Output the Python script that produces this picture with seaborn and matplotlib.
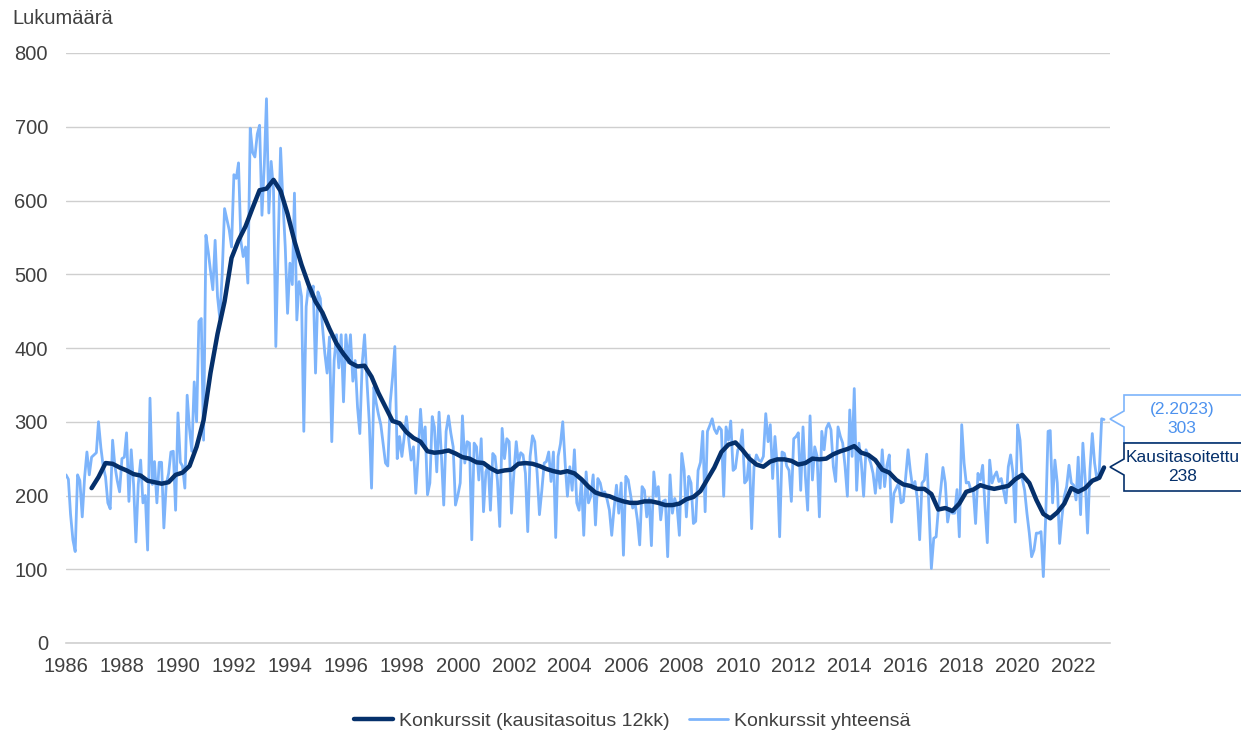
import pandas as pd
import matplotlib
matplotlib.use('Agg')
import matplotlib.pyplot as plt
import matplotlib.dates as mdates
from matplotlib.patches import Polygon
import seaborn as sns

# Konkurssit yhteensä, kuukausittain 1/1986 - 2/2023 (luettu kuvasta)
total = [
    228, 222, 175, 140, 124, 228, 220, 171, 225, 259, 228, 252,  # 1986
    255, 258, 300, 265, 240, 225, 190, 182, 275, 240, 220, 205,  # 1987
    250, 252, 285, 192, 262, 215, 137, 215, 248, 190, 200, 126,  # 1988
    332, 215, 246, 190, 245, 245, 156, 215, 230, 259, 260, 180,  # 1989
    312, 245, 240, 210, 336, 290, 260, 354, 300, 436, 440, 275,  # 1990
    553, 530, 505, 479, 546, 470, 440, 500, 589, 575, 560, 537,  # 1991
    635, 630, 651, 545, 524, 537, 488, 698, 665, 659, 690, 702,  # 1992
    580, 650, 738, 583, 653, 614, 402, 540, 671, 600, 537, 447,  # 1993
    515, 486, 610, 438, 490, 470, 287, 456, 486, 470, 484, 366,  # 1994
    476, 467, 430, 393, 366, 415, 273, 383, 418, 373, 418, 327,  # 1995
    418, 380, 418, 355, 383, 320, 284, 379, 418, 357, 300, 210,  # 1996
    347, 325, 310, 296, 270, 244, 240, 325, 360, 402, 250, 280,  # 1997
    253, 280, 307, 275, 248, 266, 203, 253, 317, 271, 293, 201,  # 1998
    217, 307, 293, 232, 313, 253, 187, 287, 308, 285, 266, 187,  # 1999
    200, 217, 308, 244, 273, 271, 140, 271, 266, 221, 277, 178,  # 2000
    232, 241, 180, 257, 253, 220, 158, 291, 250, 277, 273, 176,  # 2001
    230, 273, 244, 258, 255, 230, 151, 253, 281, 273, 230, 174,  # 2002
    207, 244, 246, 259, 219, 259, 143, 253, 270, 300, 244, 199,  # 2003
    239, 207, 262, 190, 180, 221, 146, 232, 190, 199, 228, 160,  # 2004
    223, 217, 203, 205, 195, 180, 146, 183, 214, 176, 217, 119,  # 2005
    226, 221, 203, 183, 190, 167, 133, 212, 207, 171, 196, 132,  # 2006
    232, 199, 212, 167, 192, 194, 117, 228, 176, 196, 185, 146,  # 2007
    257, 234, 171, 226, 217, 162, 165, 234, 245, 287, 178, 287,  # 2008
    295, 304, 290, 284, 293, 289, 199, 293, 275, 301, 234, 237,  # 2009
    262, 266, 289, 217, 221, 255, 155, 239, 255, 248, 246, 253,  # 2010
    311, 273, 296, 223, 280, 239, 144, 259, 257, 240, 234, 192,  # 2011
    277, 280, 285, 207, 293, 226, 180, 308, 221, 266, 253, 171,  # 2012
    287, 262, 291, 298, 289, 239, 219, 293, 280, 271, 239, 199,  # 2013
    316, 253, 345, 207, 271, 244, 199, 262, 253, 244, 230, 203,  # 2014
    239, 210, 262, 212, 241, 255, 164, 203, 210, 217, 190, 192,  # 2015
    225, 262, 234, 210, 219, 195, 140, 217, 221, 256, 180, 101,  # 2016
    142, 144, 180, 207, 238, 217, 164, 182, 176, 176, 208, 144,  # 2017
    296, 244, 217, 218, 207, 207, 162, 230, 221, 241, 185, 136,  # 2018
    248, 217, 226, 232, 219, 223, 207, 190, 239, 255, 230, 164,  # 2019
    296, 275, 223, 207, 176, 149, 117, 126, 149, 149, 151, 90,   # 2020
    171, 287, 288, 190, 248, 217, 135, 171, 199, 212, 241, 217,  # 2021
    214, 194, 252, 174, 271, 221, 149, 234, 284, 244, 221, 232,  # 2022
    304, 303,                                                    # 2023
]

# Kausitasoitettu sarja, luettu kolmen kuukauden välein 12/1986 alkaen + 2/2023
smoothed = [
    210, 225, 244, 243, 238, 234, 229, 227, 220, 218, 216, 218,
    228, 231, 240, 266, 302, 366, 419, 463, 522, 546, 565, 590,
    614, 616, 628, 613, 582, 545, 513, 486, 463, 448, 426, 406,
    392, 380, 375, 376, 361, 339, 320, 301, 298, 286, 278, 273,
    260, 258, 259, 261, 257, 252, 250, 245, 244, 237, 232, 234,
    235, 243, 244, 243, 240, 236, 233, 231, 233, 230, 222, 212,
    204, 201, 199, 195, 192, 190, 190, 192, 192, 190, 187, 187,
    189, 195, 198, 206, 222, 238, 259, 269, 272, 262, 250, 242,
    239, 246, 249, 249, 247, 242, 244, 250, 249, 250, 256, 260,
    263, 267, 258, 255, 248, 235, 231, 221, 215, 213, 209, 209,
    202, 181, 183, 179, 189, 205, 208, 214, 211, 209, 211, 213,
    222, 228, 217, 194, 175, 169, 177, 189, 210, 205, 210, 220,
    224, 238,
]

series_labels = ['Konkurssit (kausitasoitus 12kk)', 'Konkurssit yhteensä']
y_ticks = [0, 100, 200, 300, 400, 500, 600, 700, 800]
x_years = list(range(1986, 2023, 2))
last_total_label = '(2.2023)\n303'
last_smoothed_label = 'Kausitasoitettu\n238'

total_dates = pd.date_range('1986-01-01', periods=len(total), freq='MS')
smooth_dates = list(pd.date_range('1986-12-01', periods=len(smoothed) - 1, freq='3MS'))
smooth_dates.append(pd.Timestamp('2023-02-01'))

df_total = pd.DataFrame({'date': total_dates, 'value': total})
df_smooth = pd.DataFrame({'date': smooth_dates, 'value': smoothed})

dark = '#05306b'
light = '#7db4fb'
text_col = '#404040'

sns.set_style('white')
plt.rcParams['font.family'] = ['Liberation Sans', 'DejaVu Sans']

fig = plt.figure(figsize=(12.41, 7.32), dpi=100)
ax = fig.add_axes([66 / 1241, 1 - 643 / 732, (1110 - 66) / 1241, (643 - 53) / 732])

sns.lineplot(data=df_smooth, x='date', y='value', ax=ax, color=dark, lw=3.2,
             label=series_labels[0], zorder=3)
sns.lineplot(data=df_total, x='date', y='value', ax=ax, color=light, lw=2.0,
             label=series_labels[1], zorder=2)

ax.set_ylim(0, 800)
ax.set_xlim(pd.Timestamp('1986-01-01'), pd.Timestamp('2023-04-20'))
ax.set_yticks(y_ticks)
ax.set_xticks([pd.Timestamp(f'{y}-01-01') for y in x_years])
ax.xaxis.set_major_formatter(mdates.DateFormatter('%Y'))
ax.grid(axis='y', color='#cfcfcf', lw=1)
ax.set_axisbelow(True)
for s in ['top', 'right', 'left']:
    ax.spines[s].set_visible(False)
ax.spines['bottom'].set_color('#d0d0d0')
ax.spines['bottom'].set_linewidth(1.2)
ax.tick_params(axis='x', direction='inout', length=6, width=1, color='#606060',
               labelsize=14.5, labelcolor=text_col, pad=7)
ax.tick_params(axis='y', length=0, labelsize=14.5, labelcolor=text_col, pad=13)
ax.set_xlabel('')
ax.set_ylabel('')

fig.text(12 / 1241, 1 - 18 / 732, 'Lukumäärä', fontsize=14.5, color=text_col,
         ha='left', va='center')

ax.get_legend().remove()
handles, labels = ax.get_legend_handles_labels()
fig.legend(handles, labels, loc='center', bbox_to_anchor=(632 / 1241, 1 - 721 / 732),
           ncol=2, frameon=False, fontsize=14, handlelength=2.0, columnspacing=1.0,
           handletextpad=0.3, labelcolor=text_col)


# callout boxes on the right edge (figure pixel coords)
def callout(top, bottom, tip_y, edge, txt, tcol, tx):
    W, H = 1241, 732
    left, tipx, right = 1124, 1110, 1300
    pts = [(left, top), (right, top), (right, bottom), (left, bottom),
           (left, tip_y + 8), (tipx, tip_y), (left, tip_y - 8)]
    pts = [(x / W, 1 - y / H) for x, y in pts]
    fig.patches.append(Polygon(pts, closed=True, transform=fig.transFigure,
                               facecolor='white', edgecolor=edge, lw=1.2, zorder=5))
    fig.text(tx / W, 1 - (top + bottom) / 2 / H, txt, color=tcol, fontsize=12.5,
             ha='center', va='center', linespacing=1.3, zorder=6)


callout(395, 443, 419, light, last_total_label, '#4d92ee', 1182)
callout(443, 491, 467, dark, last_smoothed_label, dark, 1183)

fig.savefig('out.png', dpi=100)
